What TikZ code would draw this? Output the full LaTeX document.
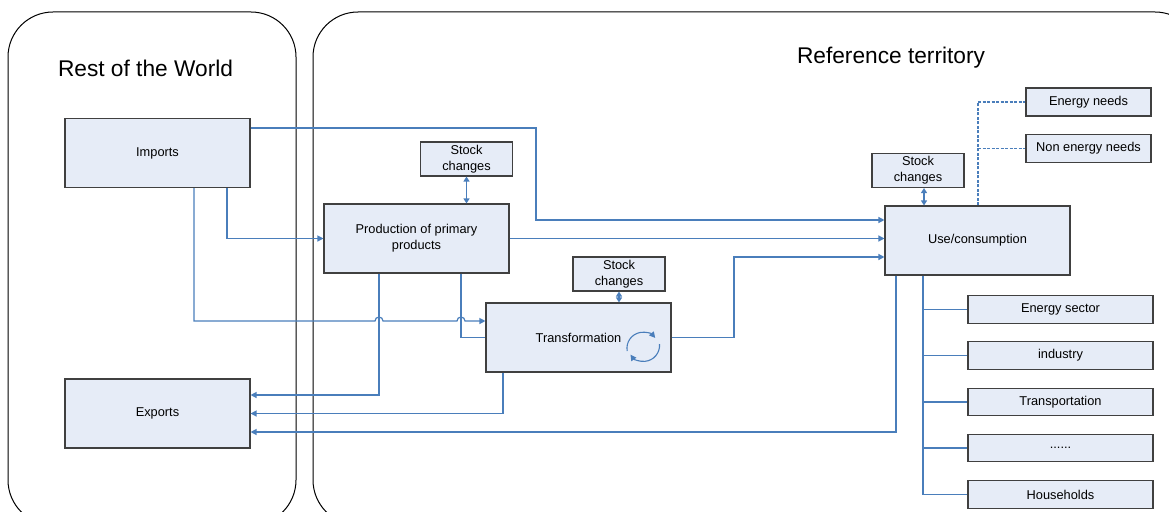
\documentclass[tikz,border=0pt]{standalone}
\usepackage{fontspec}
\setmainfont{Liberation Sans}
\usepackage{xcolor}
\usetikzlibrary{arrows.meta}

\definecolor{flowblue}{HTML}{4A7EBB}
\definecolor{boxfill}{HTML}{E6ECF7}
\definecolor{boxline}{HTML}{404040}

\begin{document}
\begin{tikzpicture}[
    x=1pt, y=-1pt,
    region/.style={draw=black, line width=1pt, rounded corners=45pt},
    box/.style={rectangle, draw=boxline, fill=boxfill, line width=1.1pt, minimum width=185pt, minimum height=69pt, align=center, inner sep=2pt, font=\fontsize{12.8}{16}\selectfont},
    stockbox/.style={box, minimum width=92pt, minimum height=34pt},
    sidebox/.style={box, minimum width=185pt, minimum height=27.5pt},
    needbox/.style={box, minimum width=125pt, minimum height=28pt},
    title/.style={anchor=base, font=\fontsize{22.7}{26}\selectfont},
    arrow/.style={-{Triangle[length=6pt,width=6pt]}, flowblue, line width=1.2pt},
    twoway/.style={{Triangle[length=5pt,width=6pt]}-{Triangle[length=5pt,width=6pt]}, flowblue, line width=1.2pt},
    link/.style={flowblue, line width=1.2pt},
    needlink/.style={link, dash pattern=on 3pt off 1.5pt},
    cyclearrow/.style={-{Triangle[length=6pt,width=6pt]}, flowblue, line width=1.1pt}
]
    \useasboundingbox (0,0) rectangle (1169,511);
    \clip (0,0) rectangle (1169,511);

    % the two regions
    \draw[region] (8,12) rectangle (296,525);
    \draw[region] (313,12) rectangle (1200,525);
    \node[title] (rowtitle) at (145.5,76) {Rest of the World};
    \node[title] (reftitle) at (891,63.3) {Reference territory};

    % boxes
    \node[box] (imports) at (157.5,153) {Imports};
    \node[box] (exports) at (157.5,413.5) {Exports};
    \node[box] (production) at (416.5,238.5) {Production of primary\\products};
    \node[stockbox] (stockprod) at (466.5,159) {Stock\\changes};
    \node[box] (transformation) at (578.5,337.5) {Transformation};
    \node[stockbox] (stocktrans) at (619,274) {Stock\\changes};
    \node[box] (useconsumption) at (977.5,240.5) {Use/consumption};
    \node[stockbox] (stockuse) at (918,170.5) {Stock\\changes};
    \node[needbox] (energyneeds) at (1088.5,102) {Energy needs};
    \node[needbox] (nonenergy) at (1088.5,148.5) {Non energy needs};
    \node[sidebox] (energysector) at (1060.5,309.5) {Energy sector};
    \node[sidebox] (industry) at (1060.5,355.5) {industry};
    \node[sidebox] (transport) at (1060.5,402) {Transportation};
    \node[sidebox] (dots) at (1060.5,448) {......};
    \node[sidebox] (households) at (1060.5,494.5) {Households};

    % cycle symbol in the transformation box
    \draw[cyclearrow] (627.2,351) arc[start angle=190, end angle=40, radius=16pt];
    \draw[cyclearrow] (659.5,344) arc[start angle=5, end angle=-145, radius=16pt];

    % flows
    \draw[arrow] ([yshift=25pt]imports.east) -| (536,220) -- ([yshift=20.5pt]useconsumption.west);
    \draw[arrow] ([xshift=69.5pt]imports.south) |- (production.west);
    \draw[arrow] ([xshift=36.5pt]imports.south) |- (375,321)
        arc[start angle=180, end angle=0, radius=4pt] -- (457,321)
        arc[start angle=180, end angle=0, radius=4pt] -- ([yshift=16.5pt]transformation.west);
    \draw[arrow] (production.east) -- (production.east -| useconsumption.west);
    \draw[arrow] (transformation.east) -| (734,257) -- ([yshift=-16.5pt]useconsumption.west);
    \draw[arrow] ([xshift=-37.5pt]production.south) |- ([yshift=18.5pt]exports.east);
    \draw[link] ([xshift=44.5pt]production.south) |- (transformation.west);
    \draw[arrow] ([xshift=-75.5pt]transformation.south) |- (exports.east);
    \draw[arrow] ([xshift=-81.5pt]useconsumption.south) |- ([yshift=-18.5pt]exports.east);

    % stock changes
    \draw[twoway] (stockprod.south) -- (stockprod.south |- production.north);
    \draw[twoway] (stocktrans.south) -- (stocktrans.south |- transformation.north);
    \draw[twoway] ([xshift=6pt]stockuse.south) -- ([xshift=6pt]stockuse.south |- useconsumption.north);

    % needs
    \coordinate (needs) at ([xshift=0.5pt]useconsumption.north);
    \draw[needlink] (needs) |- (energyneeds.west);
    \draw[needlink] (needs |- nonenergy.west) -- (nonenergy.west);

    % sectors
    \coordinate (bus) at ([xshift=-54.5pt]useconsumption.south);
    \draw[link] (bus) |- (households.west);
    \foreach \n in {energysector,industry,transport,dots}
        \draw[link] (bus |- \n.west) -- (\n.west);
\end{tikzpicture}
\end{document}
